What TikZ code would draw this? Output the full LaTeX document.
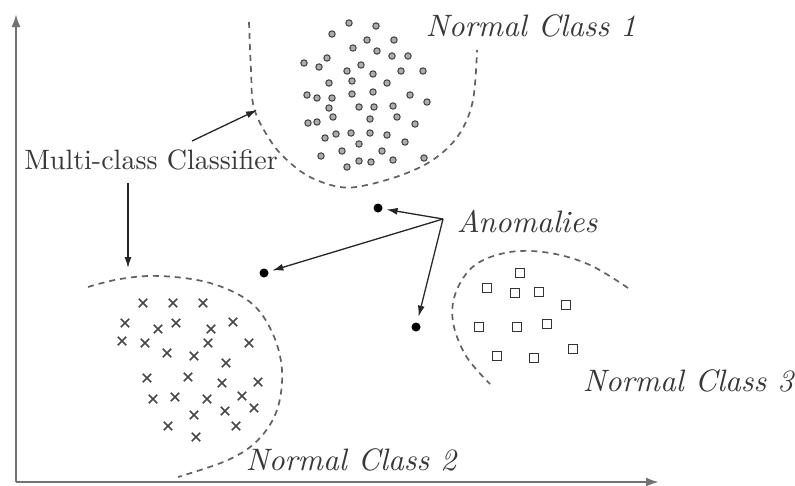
\documentclass[tikz,border=0pt]{standalone}
\usepackage{graphicx}
\usetikzlibrary{arrows.meta}
\newcommand\bigrmtext[1]{\scalebox{2.8}{\fontsize{10}{12}\selectfont #1}}
\newcommand\bigittext[1]{\scalebox{3.1}{\fontsize{10}{12}\selectfont\itshape #1}}
\begin{document}
\begin{tikzpicture}[x=1pt,y=-1pt,
  axisline/.style={draw=black!55,line width=2.2pt,-{Latex[length=13pt,width=9pt]}},
  bound/.style={draw=black!62,line width=1.7pt,dash pattern=on 6pt off 5pt},
  arr/.style={draw=black!85,line width=1.3pt,-{Latex[length=11pt,width=7pt]}},
  anom/.style={circle,fill=black,inner sep=0pt,minimum size=9pt},
  lab/.style={text=black!78,inner sep=0pt},
  circpt/.style={fill=gray!65,draw=black!75,line width=1pt},
  crosspt/.style={draw=black!72,line width=1.6pt},
  sqpt/.style={draw=black!80,fill=white,line width=1.4pt}]
\useasboundingbox (0,0) rectangle (795,485);
\fill[white] (0,0) rectangle (795,485);

% axes
\coordinate (O) at (16,482);
\coordinate (ytip) at (16,14);
\coordinate (xtip) at (659,482);
\draw[axisline] (O) -- (ytip);
\draw[axisline] (O) -- (xtip);

% class boundaries
\draw[bound] plot[smooth,tension=0.6] coordinates {(249,22) (251,70) (254,108) (270,140) (287,160) (310,177) (340,187) (367,185) (407,173) (437,157) (460,133) (473,100) (477,50)};
\draw[bound] plot[smooth,tension=0.6] coordinates {(88,287) (120,279) (160,276) (210,283) (250,302) (272,332) (282,370) (277,410) (258,440) (228,460) (178,477)};
\draw[bound] plot[smooth,tension=0.6] coordinates {(628,288) (590,265) (550,253) (510,252) (475,265) (456,292) (453,322) (466,356) (490,384)};

% class 1 points
\foreach \px/\py in {349/23,376/26,332/34,367/40,394/40,353/48,377/51,327/58,392/56,408/56,
  304/63,319/67,361/65,347/71,373/74,401/71,423/71,329/83,352/81,387/83,
  307/95,317/98,332/98,352/94,373/92,410/95,427/102,329/108,359/107,374/107,
  393/106,333/117,370/119,397/117,308/123,317/122,415/124,325/138,336/134,351/133,
  370/133,387/135,359/144,405/142,342/151,382/151,321/156,359/161,371/162,393/160,
  424/158,347/167}
  \draw[circpt] (\px,\py) circle (3.2);

% class 2 points
\foreach \px/\py in {143/303,173/303,203/303,125/323,158/329,176/323,211/329,233/322,
  122/341,145/343,208/343,249/343,167/353,194/356,226/363,147/378,188/377,222/383,
  258/382,153/399,175/397,207/399,242/396,194/415,225/411,254/408,168/426,236/426,196/437}
  \draw[crosspt] (\px-4.2,\py-4.2) -- (\px+4.2,\py+4.2) (\px-4.2,\py+4.2) -- (\px+4.2,\py-4.2);

% class 3 points
\foreach \px/\py in {520/273,487/288,515/293,539/292,566/305,479/327,517/327,547/324,
  497/356,534/358,573/349}
  \draw[sqpt] (\px-4.5,\py-4.5) rectangle (\px+4.5,\py+4.5);

% labels
\node[lab] (nc1) at (531,26) {\bigittext{Normal Class 1}};
\node[lab] (nc2) at (351,460) {\bigittext{Normal Class 2}};
\node[lab] (nc3) at (688,381) {\bigittext{Normal Class 3}};
\node[lab] (an) at (527,222) {\bigittext{Anomalies}};
\node[lab] (mc) at (151,160) {\bigrmtext{Multi-class Classifier}};

% anomalies
\node[anom] (a1) at (378,208) {};
\node[anom] (a2) at (264,273) {};
\node[anom] (a3) at (416,327) {};
\coordinate (as) at (443,219);
\draw[arr,shorten >=4pt] (as) -- (a1);
\draw[arr,shorten >=4pt] (as) -- (a2);
\draw[arr,shorten >=6pt] (as) -- (a3);

% classifier arrows
\coordinate (m1) at (192,141);
\coordinate (c1) at (257,110);
\coordinate (m2) at (128,183);
\coordinate (c2) at (128,268);
\draw[arr] (m1) -- (c1);
\draw[arr] (m2) -- (c2);
\end{tikzpicture}
\end{document}
